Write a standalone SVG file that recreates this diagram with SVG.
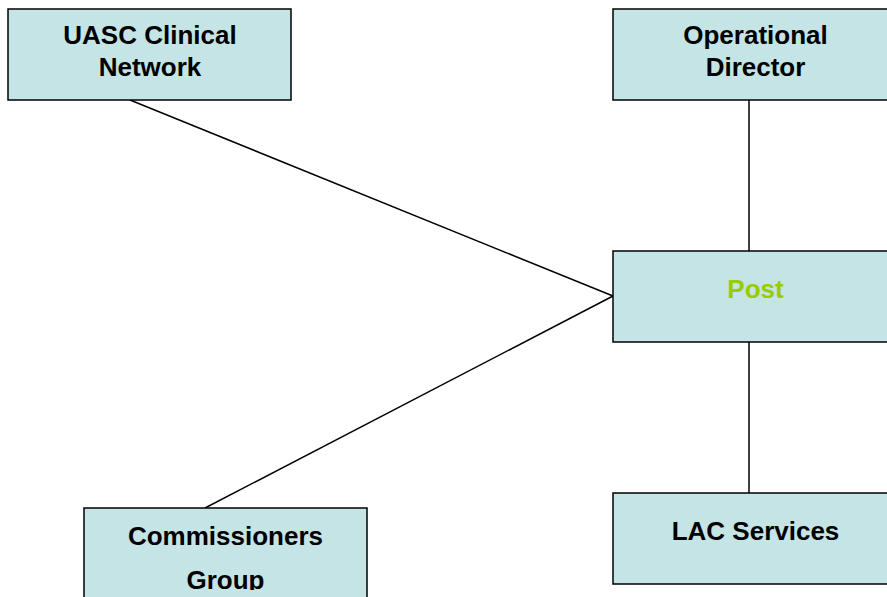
<svg xmlns="http://www.w3.org/2000/svg" width="887" height="597" viewBox="0 0 887 597">
<style>
.box{fill:#c4e4e6;stroke:#000;stroke-width:1.5}
.t{font-family:"Liberation Sans",Arial,sans-serif;font-weight:bold;font-size:26px;fill:#000;text-anchor:middle}
.post{fill:#99cc00}
.c{stroke:#000;stroke-width:1.5;fill:none}
</style>
<defs><clipPath id="clipB"><rect x="0" y="0" width="887" height="590"/></clipPath></defs>
<rect width="887" height="597" fill="#fff"/>
<g id="connectors">
<line class="c" x1="130" y1="100" x2="613" y2="296"/>
<line class="c" x1="205" y1="508" x2="613" y2="296"/>
<line class="c" x1="749" y1="100" x2="749" y2="251"/>
<line class="c" x1="749" y1="342" x2="749" y2="493"/>
</g>
<g id="uasc">
<rect class="box" x="8" y="9" width="283" height="91"/>
<text class="t" x="150" y="44">UASC Clinical</text>
<text class="t" x="150" y="76">Network</text>
</g>
<g id="operational">
<rect class="box" x="613" y="9" width="285" height="91"/>
<text class="t" x="755.5" y="44">Operational</text>
<text class="t" x="755.5" y="76">Director</text>
</g>
<g id="post">
<rect class="box" x="613" y="251" width="285" height="91"/>
<text class="t post" x="755.5" y="298">Post</text>
</g>
<g id="lac">
<rect class="box" x="613" y="493" width="285" height="91"/>
<text class="t" x="755.5" y="540">LAC Services</text>
</g>
<g id="commissioners">
<rect class="box" x="84" y="508" width="283" height="100"/>
<g clip-path="url(#clipB)">
<text class="t" x="225.5" y="545">Commissioners</text>
<text class="t" x="225.5" y="589">Group</text>
</g>
</g>
</svg>
